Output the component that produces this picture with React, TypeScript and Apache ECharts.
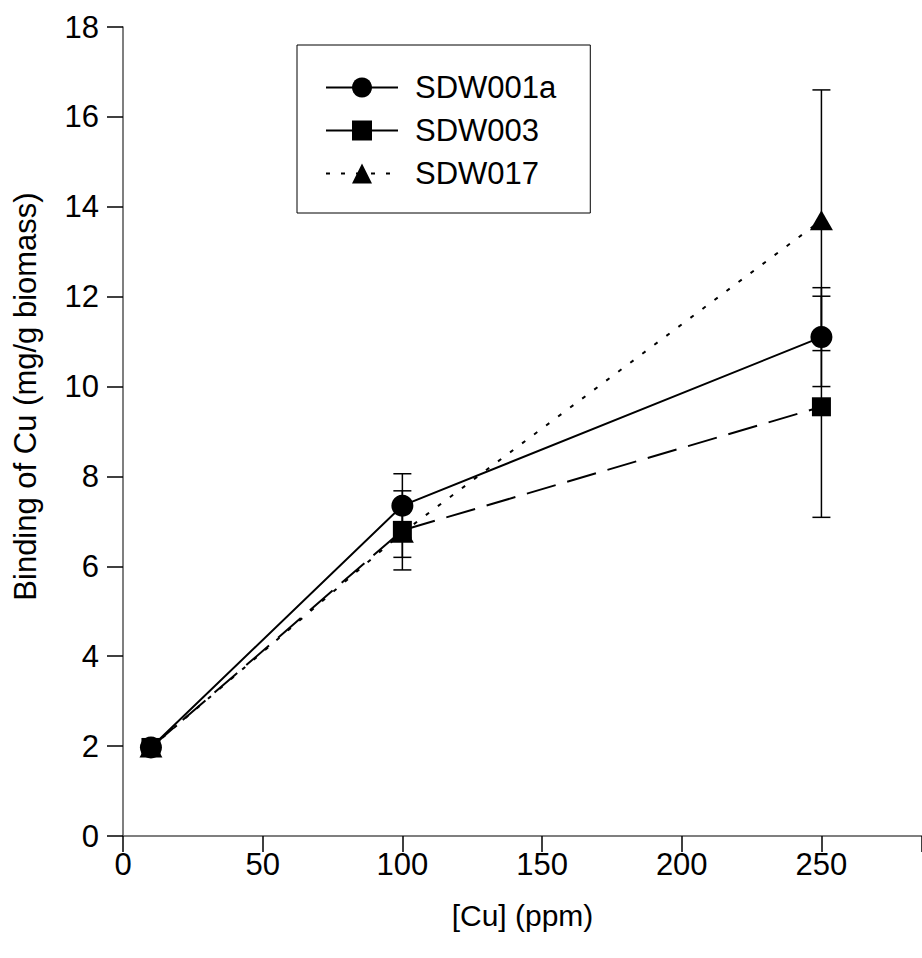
import React, { useEffect, useRef } from "react";
import * as echarts from "echarts";

const concentrations = [10, 100, 250];
const sdw001a = [1.97, 7.35, 11.1];
const sdw001aErr = [0.1, 0.71, 1.1];
const sdw003 = [1.97, 6.8, 9.55];
const sdw003Err = [0.1, 0.88, 2.46];
const sdw017 = [1.97, 6.75, 13.7];
const sdw017Err = [0.1, 0.55, 2.9];
const seriesNames = ["SDW001a", "SDW003", "SDW017"];
const xTicks = [0, 50, 100, 150, 200, 250];
const yTicks = [0, 2, 4, 6, 8, 10, 12, 14, 16, 18];

const FONT = "Liberation Sans, Arial, sans-serif";
const FS = 31;

function pairs(vals: number[]) {
  return concentrations.map((x, i) => [x, vals[i]]);
}
function errData(vals: number[], errs: number[]) {
  return concentrations.map((x, i) => [x, vals[i] - errs[i], vals[i] + errs[i]]);
}

function errorSeries(vals: number[], errs: number[], z: number) {
  return {
    type: "custom",
    z,
    silent: true,
    data: errData(vals, errs),
    encode: { x: 0, y: [1, 2] },
    renderItem: (params: any, api: any) => {
      const x = api.value(0);
      const lo = api.coord([x, api.value(1)]);
      const hi = api.coord([x, api.value(2)]);
      const hw = 9;
      const style = { stroke: "#000", lineWidth: 1.5 };
      return {
        type: "group",
        children: [
          { type: "line", shape: { x1: lo[0], y1: lo[1], x2: hi[0], y2: hi[1] }, style },
          { type: "line", shape: { x1: lo[0] - hw, y1: lo[1], x2: lo[0] + hw, y2: lo[1] }, style },
          { type: "line", shape: { x1: hi[0] - hw, y1: hi[1], x2: hi[0] + hw, y2: hi[1] }, style },
        ],
      };
    },
  };
}

export default function App() {
  const ref = useRef<HTMLDivElement>(null);
  useEffect(() => {
    if (!ref.current) return;
    const chart = echarts.init(ref.current, undefined, { renderer: "svg" });
    const axisLine = { show: true, lineStyle: { color: "#555", width: 1.5 } };
    const axisTick = { show: true, inside: false, length: 16, lineStyle: { color: "#000", width: 1.5 } };
    chart.setOption({
      animation: false,
      backgroundColor: "#fff",
      textStyle: { fontFamily: FONT },
      grid: { left: 123, right: 0, top: 27, bottom: 122, containLabel: false },
      legend: {
        orient: "vertical",
        left: 297,
        top: 45,
        padding: [27, 34, 24, 28],
        itemWidth: 72,
        itemHeight: 25,
        itemGap: 12,
        borderColor: "#000",
        borderWidth: 1,
        backgroundColor: "#fff",
        textStyle: { fontSize: FS, color: "#000", fontFamily: FONT, padding: [0, 0, 0, 12] },
        data: [
          { name: seriesNames[0] },
          { name: seriesNames[1], lineStyle: { type: "solid" } },
          { name: seriesNames[2] },
        ],
      },
      xAxis: {
        type: "value",
        min: 0,
        max: 286,
        interval: 50,
        name: "[Cu] (ppm)",
        nameLocation: "middle",
        nameGap: 64,
        nameTextStyle: { fontSize: 30, color: "#000", fontFamily: FONT },
        axisLine,
        axisTick,
        splitLine: { show: false },
        axisLabel: {
          fontSize: FS,
          color: "#000",
          margin: 13,
          fontFamily: FONT,
          customValues: xTicks,
        },
      },
      yAxis: {
        type: "value",
        min: 0,
        max: 18,
        interval: 2,
        name: "Binding of Cu (mg/g biomass)",
        nameLocation: "middle",
        nameGap: 82,
        nameTextStyle: { fontSize: FS, color: "#000", fontFamily: FONT, padding: [0, 0, 0, 70] },
        axisLine,
        axisTick,
        splitLine: { show: false },
        axisLabel: { fontSize: FS, color: "#000", margin: 24, fontFamily: FONT, customValues: yTicks },
      },
      series: [
        errorSeries(sdw017, sdw017Err, 1),
        errorSeries(sdw003, sdw003Err, 1),
        errorSeries(sdw001a, sdw001aErr, 1),
        {
          name: seriesNames[2],
          type: "line",
          z: 2,
          data: pairs(sdw017),
          symbol: "triangle",
          symbolSize: [23, 20],
          itemStyle: { color: "#000" },
          lineStyle: { color: "#000", width: 2, type: [4, 11] },
        },
        {
          name: seriesNames[1],
          type: "line",
          z: 3,
          data: pairs(sdw003),
          symbol: "rect",
          symbolSize: 19,
          itemStyle: { color: "#000" },
          lineStyle: { color: "#000", width: 2, type: [30, 12] },
        },
        {
          name: seriesNames[0],
          type: "line",
          z: 4,
          data: pairs(sdw001a),
          symbol: "circle",
          symbolSize: 22,
          itemStyle: { color: "#000" },
          lineStyle: { color: "#000", width: 2, type: "solid" },
        },
      ],
    });
    return () => chart.dispose();
  }, []);
  return (
    <div
      ref={ref}
      style={{ position: "fixed", left: 0, top: 0, width: 922, height: 958, background: "#fff" }}
    />
  );
}
